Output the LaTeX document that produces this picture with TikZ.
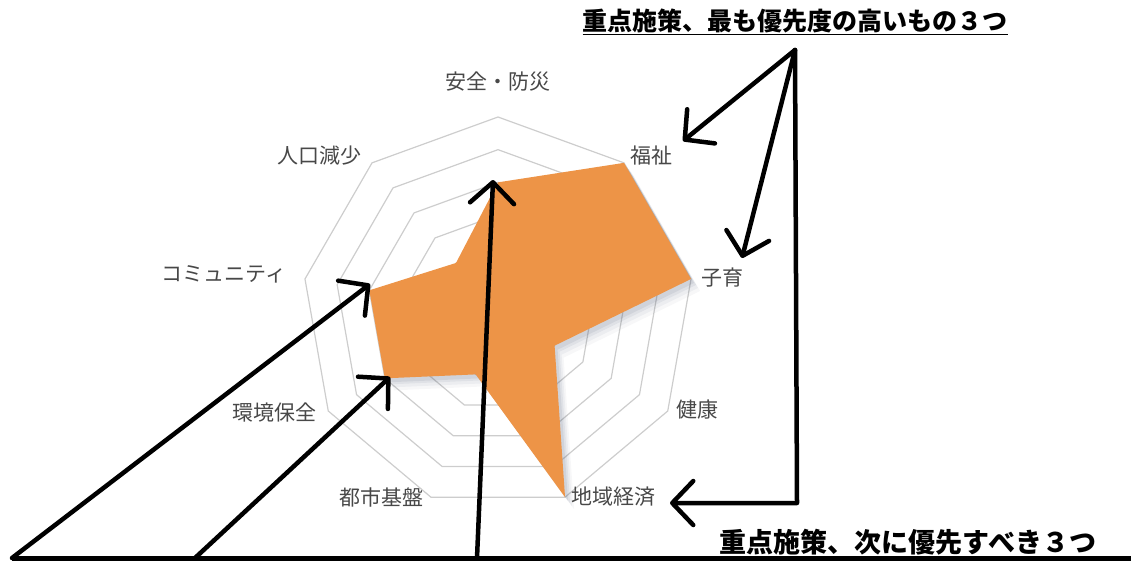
\documentclass[tikz,border=0pt]{standalone}
\usepackage{fontspec}
\setmainfont{Noto Sans CJK JP}
\usetikzlibrary{arrows.meta,shapes.geometric}
\definecolor{sharefill}{RGB}{237,148,71}
\definecolor{ringgray}{RGB}{205,205,205}
\definecolor{labelgray}{RGB}{72,72,72}
\definecolor{shadowblue}{RGB}{90,100,125}

\begin{document}
\begin{tikzpicture}[x=1pt,y=-1pt]
\tikzstyle{ring}=[regular polygon, regular polygon sides=9, draw=ringgray, line width=1.2pt, inner sep=0pt, outer sep=0pt]
\tikzstyle{axislabel}=[text=labelgray, font=\fontsize{21}{24}\selectfont]
\tikzstyle{share}=[fill=sharefill,
  preaction={fill=shadowblue, opacity=.05, transform canvas={shift={(9pt,-12pt)}}},
  preaction={fill=shadowblue, opacity=.07, transform canvas={shift={(7pt,-9pt)}}},
  preaction={fill=shadowblue, opacity=.09, transform canvas={shift={(5pt,-6pt)}}},
  preaction={fill=shadowblue, opacity=.11, transform canvas={shift={(3pt,-4pt)}}}]
\tikzstyle{hand}=[line width=4.5pt, line cap=round, line join=round, -{Straight Barb[length=21pt,width=44pt,round]}]
\tikzstyle{title}=[inner sep=0pt, font=\bfseries\fontsize{25}{28}\selectfont]

\useasboundingbox (0,0) rectangle (1131,562);

% rings of the chart
\node (ring1) [ring, minimum size=65.33pt]  at (498,313) {};
\node (ring2) [ring, minimum size=130.67pt] at (498,313) {};
\node (ring3) [ring, minimum size=196pt]    at (498,313) {};
\node (ring4) [ring, minimum size=261.33pt] at (498,313) {};
\node (ring5) [ring, minimum size=326.67pt] at (498,313) {};
\node (ring6) [ring, minimum size=392pt]    at (498,313) {};

\path [share] (ring4.corner 1) -- (ring6.corner 9) -- (ring6.corner 8) -- (ring2.corner 7)
  -- (ring6.corner 6) -- (ring2.corner 5) -- (ring4.corner 4) -- (ring4.corner 3) -- (ring2.corner 2) -- cycle;

\node (anzen)  [axislabel] at (498,82)  {安全・防災};
\node (fukushi)[axislabel] at (651,156) {福祉};
\node (kosodate)[axislabel] at (722,278) {子育};
\node (kenko)  [axislabel] at (697,410) {健康};
\node (keizai) [axislabel] at (613,497) {地域経済};
\node (kiban)  [axislabel] at (381,497) {都市基盤};
\node (kankyo) [axislabel] at (274,412) {環境保全};
\node (comm)   [axislabel] at (224,274) {コミュニティ};
\node (jinko)  [axislabel] at (319,156) {人口減少};

\node (first)  [title] at (795,22)  {\underline{重点施策、最も優先度の高いもの３つ}};
\node (second) [title, font=\bfseries\fontsize{27}{30}\selectfont] at (908,542) {重点施策、次に優先すべき３つ};

% hand drawn arrows
\coordinate (apex) at (795,50);
\coordinate (bend) at (797,503);
\coordinate (fukushitip) at (683,141);
\coordinate (kosodatetip) at (742,258);
\coordinate (keizaitip) at (670,503);
\coordinate (baseL) at (12,558);
\coordinate (baseR) at (1131,558);
\coordinate (footB) at (195,558);
\coordinate (footC) at (477,558);
\coordinate (commtip) at (370,284);
\coordinate (kankyotip) at (390,377);
\coordinate (anzentip) at (493,180);

\draw [hand] (apex) -- (fukushitip);
\draw [hand] (apex) -- (kosodatetip);
\draw [hand] (apex) -- (bend) -- (keizaitip);
\draw [line width=5pt] (baseL) -- (baseR);
\draw [hand] (baseL) -- (commtip);
\draw [hand] (footB) -- (kankyotip);
\draw [hand] (footC) -- (anzentip);

\end{tikzpicture}
\end{document}
